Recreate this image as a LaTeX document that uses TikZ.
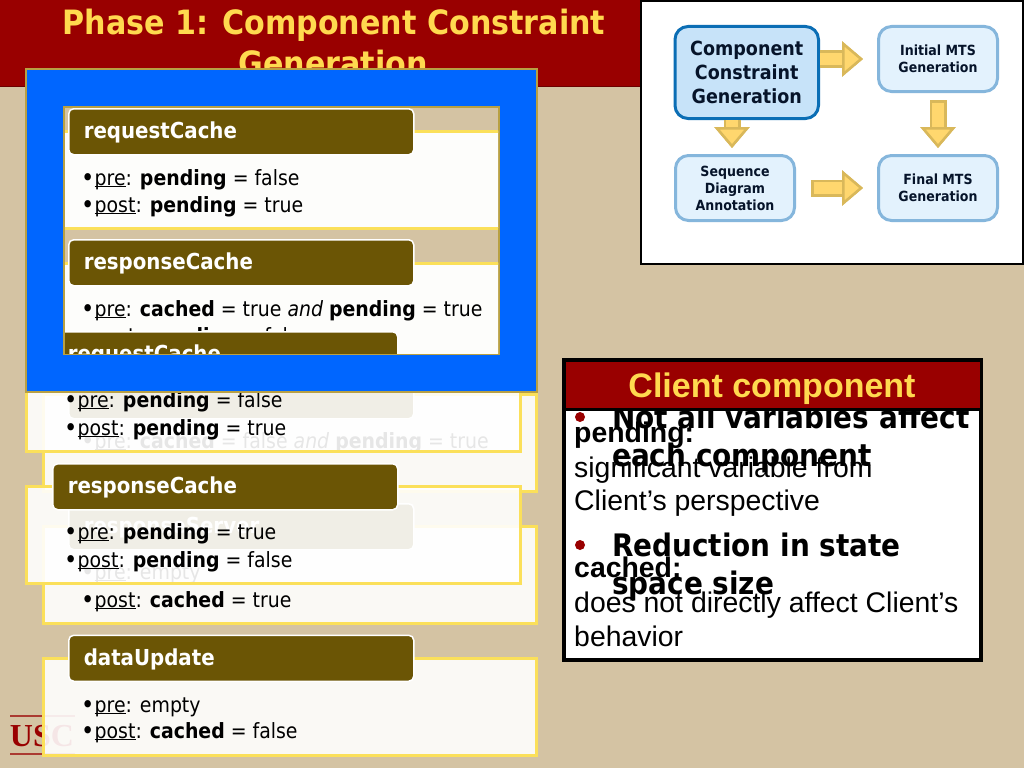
\documentclass[tikz,border=0pt]{standalone}
\usepackage{fontspec}
\setmainfont{DejaVu Sans Condensed}
\newfontfamily\arialfont{Liberation Sans}
\newfontfamily\timesfont{Liberation Serif}
\usetikzlibrary{arrows.meta,positioning}
\definecolor{slidebg}{HTML}{D4C3A3}
\definecolor{uscred}{HTML}{990000}
\definecolor{uscgold}{HTML}{FFD94F}
\definecolor{headfill}{HTML}{6B5505}
\definecolor{panelline}{HTML}{FBE05A}
\definecolor{frameblue}{HTML}{0066FF}
\definecolor{frameline}{HTML}{B8A043}
\definecolor{flowdark}{HTML}{0B6EB5}
\definecolor{flowlight}{HTML}{85B6DC}
\definecolor{flowpale}{HTML}{E3F2FD}
\definecolor{flowmid}{HTML}{C7E3F9}
\definecolor{arrowfill}{HTML}{FFD76E}
\definecolor{arrowline}{HTML}{D9B85A}
\definecolor{flowtext}{HTML}{06142A}
\newcommand{\bul}{\makebox[12.5pt][l]{\raisebox{-1.5pt}{\fontsize{25}{25}\selectfont\kern-1pt\textbullet}}}
\newcommand{\ulbl}[1]{\setbox0\hbox{#1}\rlap{\rule[-2.4pt]{\wd0}{1pt}}\box0}
\newcommand{\prelbl}{\bul\ulbl{pre}: }
\newcommand{\postlbl}{\bul\ulbl{post}: }
\tikzset{
  panel/.style={draw=panelline,line width=3pt,fill=white,fill opacity=.9},
  headbox/.style={draw=white,line width=1.5pt,fill=headfill,rounded corners=5pt,
    anchor=north west,minimum width=345pt,minimum height=46pt,inner xsep=14pt,
    text height=17pt,text depth=3pt,text width=315pt,align=left,text=white,
    font=\fontsize{22}{24}\selectfont\bfseries},
  lineitem/.style={anchor=base west,inner sep=0pt,font=\fontsize{21}{24}\selectfont},
  flowbox/.style={draw=flowlight,line width=3pt,fill=flowpale,rounded corners=13pt,
    minimum width=119pt,minimum height=65pt,align=center,inner sep=0pt,text=flowtext,
    font=\fontsize{14}{17}\selectfont\bfseries},
  flowtip/.style={-{Triangle[length=21pt,width=35pt,fill=arrowfill,color=arrowline,line width=2.5pt]}},
  blockflow/.style n args={3}{flowtip,draw=arrowfill,line width=12pt,shorten <=#1,shorten >=#3,
    preaction={flowtip,draw=arrowline,line width=17pt,shorten <=#2,shorten >=#3}},
  bigbold/.style={anchor=base west,inner sep=0pt,font=\fontsize{31}{34}\selectfont\bfseries},
  noteplain/.style={anchor=base west,inner sep=0pt,font=\arialfont\fontsize{28.4}{30}\selectfont},
  notebold/.style={anchor=base west,inner sep=0pt,font=\arialfont\fontsize{28.4}{30}\selectfont\bfseries}
}
\begin{document}
\begin{tikzpicture}[x=1pt,y=-1pt]
  \useasboundingbox (0,0) rectangle (1024,768);
  \fill[slidebg] (0,0) rectangle (1024,768);

  % title bar
  \draw[fill=uscred,draw=uscred!70!black] (-1,-1) rectangle (640,86);
  \node[text=uscgold,anchor=base,inner sep=0pt,font=\fontsize{33.5}{36}\selectfont\bfseries] (title) at (334,35) {Phase 1: Component Constraint};
  \node[text=uscgold,anchor=base,inner sep=0pt,font=\fontsize{33.5}{36}\selectfont\bfseries] (titlecont) at (333,75) {Generation};

  % logo
  \draw[uscred!70!slidebg,line width=1.5pt] (10,716) -- (75,716) (10,754) -- (75,754);
  \node[text=uscred,inner sep=0pt,font=\timesfont\fontsize{32}{36}\selectfont\bfseries] (logo) at (42,736) {USC};

  % back panels
  \draw[panel] (43.5,394) rectangle (536.5,491);
  \node[headbox] (hiddenhead) at (68,372) {};
  \node[lineitem] (ghostpre) at (82,448) {\prelbl\textbf{cached} = false \textit{and} \textbf{pending} = true};
  \draw[panel] (43.5,526) rectangle (536.5,623);
  \node[headbox] (responseserver) at (68,503) {responseServer};
  \node[lineitem] (serverpre) at (82,579) {\prelbl empty};
  \node[lineitem] (serverpost) at (82,607) {\postlbl\textbf{cached} = true};
  \draw[panel] (43.5,658) rectangle (536.5,755);
  \node[headbox] (dataupdate) at (68,634.5) {dataUpdate};
  \node[lineitem] (updatepre) at (82,712) {\prelbl empty};
  \node[lineitem] (updatepost) at (82,738) {\postlbl\textbf{cached} = false};

  % front panels
  \draw[panel] (26,354) rectangle (520,451);
  \node[lineitem] (requestpre) at (65,407) {\prelbl\textbf{pending} = false};
  \node[lineitem] (requestpost) at (65,435) {\postlbl\textbf{pending} = true};
  \draw[panel] (26,486) rectangle (520,583);
  \node[headbox] (cacheresp) at (52,463) {responseCache};
  \node[lineitem] (responsepre) at (65,539) {\prelbl\textbf{pending} = true};
  \node[lineitem] (responsepost) at (65,567) {\postlbl\textbf{pending} = false};

  % blue frame with its clipped content
  \draw[fill=frameblue,draw=frameline,line width=2.5pt] (26,69) rectangle (537,392);
  \draw[fill=slidebg,draw=frameline,line width=2.5pt] (64,107) rectangle (499,354);
  \begin{scope}
    \clip (65,108) rectangle (498,353);
    \draw[panel,fill opacity=1,fill=white!96!slidebg] (43,131) rectangle (537,228);
    \node[headbox] (innerrequest) at (68,108) {requestCache};
    \node[lineitem] (innerpre) at (82,185) {\prelbl\textbf{pending} = false};
    \node[lineitem] (innerpost) at (82,212) {\postlbl\textbf{pending} = true};
    \draw[panel,fill opacity=1,fill=white!96!slidebg] (43,263) rectangle (537,360);
    \node[headbox] (innerresponse) at (68,239) {responseCache};
    \node[lineitem] (secondpre) at (82,316) {\prelbl\textbf{cached} = true \textit{and} \textbf{pending} = true};
    \node[lineitem] (secondpost) at (82,343) {\postlbl\textbf{pending} = false};
    \node[headbox] (frontrequest) at (52,331) {requestCache};
  \end{scope}

  % phase overview
  \draw[fill=white,draw=black,line width=2.5pt] (641,1) rectangle (1023,264);
  \node[flowbox,draw=flowdark,fill=flowmid,minimum width=143.5pt,minimum height=92pt,
    font=\fontsize{19.5}{24}\selectfont\bfseries] (compgen) at (746.75,72.5) {Component\\Constraint\\Generation};
  \node[flowbox] (initmts) at (938,59) {Initial MTS\\Generation};
  \node[flowbox] (finalmts) [below=61pt of initmts] {Final MTS\\Generation};
  \node[flowbox] (seqdiag) [left=81pt of finalmts] {Sequence\\Diagram\\Annotation};
  \draw[blockflow={0pt}{0pt}{14pt}] (compgen.east |- initmts.west) -- (initmts.west);
  \draw[blockflow={0pt}{0pt}{6pt}] ([xshift=-3pt]seqdiag.north |- compgen.south) -- ([xshift=-3pt]seqdiag.north);
  \draw[blockflow={9.5pt}{7pt}{6pt}] (initmts.south) -- (finalmts.north);
  \draw[blockflow={17.5pt}{15pt}{14pt}] (seqdiag.east) -- (finalmts.west);

  % client component note
  \draw[fill=white,draw=black,line width=3.5pt] (564,360) rectangle (981,660);
  \fill[uscred] (580,417) circle (5pt);
  \node[bigbold] (notall) at (612,428) {Not all variables affect};
  \node[bigbold] (eachcomp) at (612,466) {each component};
  \node[notebold] (pendlbl) at (574,442) {pending:};
  \node[noteplain] (pendtxt) at (574,477) {significant variable from};
  \node[noteplain] (pendtxtb) at (574,510) {Client’s perspective};
  \fill[uscred] (580,545) circle (5pt);
  \node[bigbold] (reduction) at (612,556) {Reduction in state};
  \node[bigbold] (spacesize) at (612,594) {space size};
  \node[notebold] (cachlbl) at (574,577) {cached:};
  \node[noteplain] (cachtxt) at (574,612) {does not directly affect Client’s};
  \node[noteplain] (cachtxtb) at (574,646) {behavior};
  \draw[fill=uscred,draw=black,line width=3pt] (564,360) rectangle (981,409);
  \node[text=uscgold,inner sep=0pt,anchor=base,font=\arialfont\fontsize{34}{36}\selectfont\bfseries] (clienthead) at (772,397) {Client component};
\end{tikzpicture}
\end{document}
